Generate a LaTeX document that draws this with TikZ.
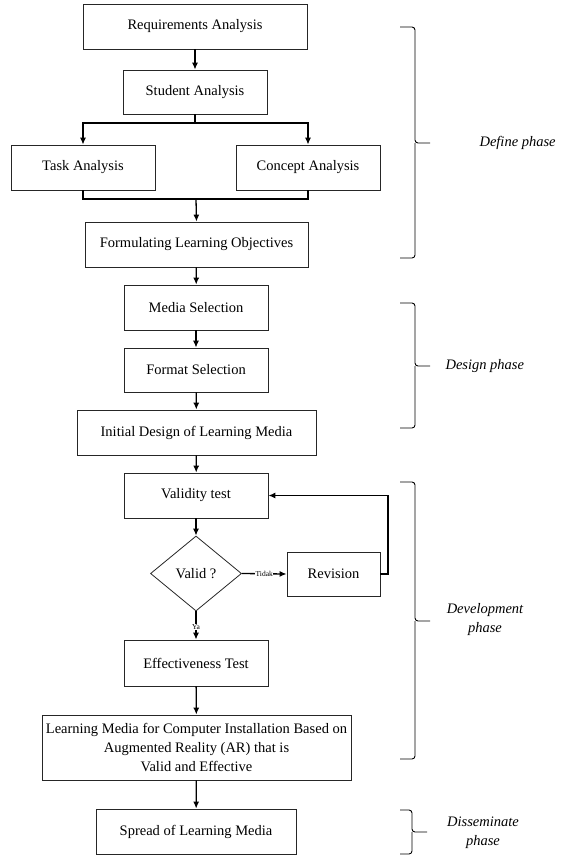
\documentclass[tikz,border=0pt]{standalone}
\usepackage{fontspec}
\setmainfont{Liberation Serif}
\usetikzlibrary{shapes.geometric,arrows.meta}
\begin{document}
\begin{tikzpicture}[x=1pt,y=-1pt,
  box/.style={draw=black!85,line width=0.8pt,rectangle,inner sep=2pt,align=center,
    font=\fontsize{14.5}{19}\selectfont},
  arr/.style={draw=black,line width=1.3pt,-{Latex[length=7pt,width=6pt]}},
  ln/.style={draw=black,line width=1.3pt},
  brace/.style={draw=black,line width=0.9pt,rounded corners=3pt},
  phase/.style={font=\fontsize{14.5}{19}\selectfont\itshape,align=center},
  tiny/.style={font=\fontsize{7.5}{9}\selectfont,fill=white,inner sep=0.5pt}]
\useasboundingbox (0,0) rectangle (570,855);
\node[box,minimum width=224pt,minimum height=45pt] (req) at (195,26.5) {Requirements Analysis};
\node[box,minimum width=144pt,minimum height=44pt] (stu) at (195,92) {Student Analysis};
\node[box,minimum width=144pt,minimum height=45pt] (task) at (83,167.5) {Task Analysis};
\node[box,minimum width=144pt,minimum height=45pt] (conc) at (308,167.5) {Concept Analysis};
\node[box,minimum width=223pt,minimum height=45pt] (form) at (196.5,244.5) {Formulating Learning Objectives};
\node[box,minimum width=144pt,minimum height=45pt] (media) at (196,307.5) {Media Selection};
\node[box,minimum width=144pt,minimum height=44pt] (fmt) at (196,370) {Format Selection};
\node[box,minimum width=239pt,minimum height=45pt] (init) at (196.5,432.5) {Initial Design of Learning Media};
\node[box,minimum width=144pt,minimum height=45pt] (valt) at (196,495.5) {Validity test};
\node[box,shape=diamond,aspect=1.21,inner sep=0pt,minimum width=91pt,minimum height=75pt] (valid) at (196,573.5) {Valid ?};
\node[box,minimum width=93pt,minimum height=44pt] (rev) at (333.5,574) {Revision};
\node[box,minimum width=144pt,minimum height=46pt] (eff) at (196,663) {Effectiveness Test};
\node[box,minimum width=309pt,minimum height=65pt] (big) at (196.5,747.5) {Learning Media for Computer Installation Based on\\Augmented Reality (AR) that is\\Valid and Effective};
\node[box,minimum width=200pt,minimum height=45pt] (spread) at (196,831.5) {Spread of Learning Media};

\coordinate (split) at (195,123);
\coordinate (merge) at (196,199);
\draw[arr] (req) -- (stu);
\draw[ln] (stu.south) -- (split);
\draw[arr] (split) -| (task.north);
\draw[arr] (split) -| (conc.north);
\draw[ln] (task.south) |- (merge) -| (conc.south);
\draw[arr] (merge) -- (form.north);
\draw[arr] (form) -- (media);
\draw[arr] (media) -- (fmt);
\draw[arr] (fmt) -- (init);
\draw[arr] (init) -- (valt);
\draw[arr] (valt) -- (valid.north);
\draw[arr] (valid.east) -- node[tiny] {Tidak} (rev.west);
\coordinate (fb) at (388,574);
\draw[arr] (rev.east) -- (fb) |- (valt.east);
\draw[arr] (valid.south) -- node[tiny,pos=0.55] {Ya} (eff.north);
\draw[arr] (eff) -- (big);
\draw[arr] (big) -- (spread);

% braces
\draw[brace] (400,27) -- (415,27) -- (415,143) -- (430,143);
\draw[brace] (400,258) -- (415,258) -- (415,143);
\draw[brace] (400,303) -- (415,303) -- (415,366) -- (430,366);
\draw[brace] (400,428) -- (415,428) -- (415,366);
\draw[brace] (400,482) -- (415,482) -- (415,621) -- (430,621);
\draw[brace] (400,759) -- (415,759) -- (415,621);
\draw[brace] (400,810) -- (412,810) -- (412,832) -- (427,832);
\draw[brace] (400,854) -- (412,854) -- (412,832);

\node[phase,anchor=west] (def) at (476,143) {Define phase};
\node[phase,anchor=west] (des) at (442,366) {Design phase};
\node[phase] (dev) at (485,620) {Development\\phase};
\node[phase] (dis) at (483,833) {Disseminate\\phase};
\end{tikzpicture}
\end{document}
